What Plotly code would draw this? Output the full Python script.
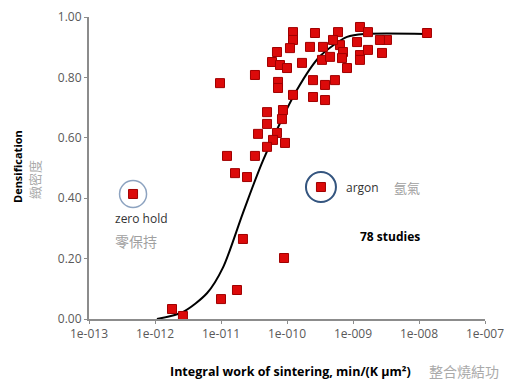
import plotly.graph_objects as go

# Data points: integral work of sintering (min/(K um^2)) vs densification
work = [1.233e-10, 2.655e-10, 1.233e-10, 5.93e-10, 1.276e-9, 1.687e-9, 3.27e-9, 1.32e-8,
        7.05e-11, 1.109e-10, 2.23e-10, 3.51e-10, 6.35e-10, 1.15e-9, 2.56e-9,
        5.93e-11, 7.83e-11, 1.0e-10, 1.687e-10, 3.39e-10, 4.49e-10, 7.05e-10, 1.276e-9,
        1.687e-9, 2.75e-9, 8.11e-10, 1.276e-9, 3.27e-11, 7.31e-11, 7.31e-11, 2.48e-10,
        2.48e-10, 3.77e-10, 3.77e-10, 5.33e-10, 1.233e-10, 9.66e-12, 4.98e-10, 6.81e-10,
        4.98e-11, 8.69e-11, 8.39e-11, 4.98e-11, 3.64e-11, 7.05e-11, 6.14e-11, 9.33e-11,
        4.98e-11, 1.233e-11, 3.27e-11, 1.63e-11, 2.48e-11, 2.15e-11, 9.02e-11, 1.746e-11,
        1.0e-11, 1.81e-12, 2.65e-12]
densification = [0.950, 0.947, 0.924, 0.950, 0.967, 0.950, 0.924, 0.947,
                 0.884, 0.897, 0.901, 0.901, 0.907, 0.917, 0.924,
                 0.851, 0.841, 0.831, 0.848, 0.858, 0.868, 0.884, 0.874,
                 0.891, 0.881, 0.831, 0.858, 0.808, 0.785, 0.765, 0.791,
                 0.735, 0.775, 0.725, 0.791, 0.742, 0.781, 0.924, 0.864,
                 0.685, 0.692, 0.662, 0.646, 0.613, 0.616, 0.593, 0.583,
                 0.570, 0.540, 0.540, 0.483, 0.470, 0.265, 0.202, 0.096,
                 0.066, 0.033, 0.010]

zero_hold = (4.65e-13, 0.414)
argon = (3.27e-10, 0.437)

# Fitted curve
curve_work = [1.07e-12, 2.63e-12, 6.17e-12, 1.07e-11, 2.14e-11, 4.37e-11, 1.41e-10,
              3.16e-10, 8.13e-10, 1.58e-9, 1.26e-8]
curve_dens = [0.0, 0.023, 0.086, 0.17, 0.35, 0.527, 0.758, 0.87, 0.934, 0.944, 0.944]

x_tickvals = [1e-13, 1e-12, 1e-11, 1e-10, 1e-9, 1e-8, 1e-7]
x_ticktext = ["1e-013", "1e-012", "1e-011", "1e-010", "1e-009", "1e-008", "1e-007"]
y_tickvals = [0.0, 0.2, 0.4, 0.6, 0.8, 1.0]

RED = "#dc0a0a"
EDGE = "#a00000"
FONT = "Open Sans"
CJK = "Noto Sans CJK TC"

# Page has an 8px body margin; the figure is sized so the screen layout matches.
OFF = 8
W, H = 512 - OFF, 385 - OFF
SL, SR, ST, SB = 89, 485, 17, 319   # plot area in screen pixels
L, R, T, B = SL - OFF, 512 - SR, ST - OFF, 385 - SB
pw, ph = SR - SL, SB - ST

fig = go.Figure()
fig.add_trace(go.Scatter(
    x=curve_work, y=curve_dens, mode="lines",
    line=dict(color="black", width=2, shape="spline", smoothing=0.8),
    hoverinfo="skip"))
fig.add_trace(go.Scatter(
    x=work + [zero_hold[0], argon[0]],
    y=densification + [zero_hold[1], argon[1]],
    mode="markers",
    marker=dict(symbol="square", size=9, color=RED, line=dict(color=EDGE, width=1))))

# circles around the highlighted points
fig.add_trace(go.Scatter(
    x=[zero_hold[0]], y=[zero_hold[1]], mode="markers",
    marker=dict(symbol="circle-open", size=27, color="#8da3c0", line=dict(width=1.5))))
fig.add_trace(go.Scatter(
    x=[argon[0]], y=[argon[1]], mode="markers",
    marker=dict(symbol="circle-open", size=30, color="#34557f", line=dict(width=2))))

annotations = [
    dict(x=-12.212, y=0.334, xref="x", yref="y", text="zero hold", showarrow=False,
         font=dict(family=FONT, size=12, color="#333333")),
    dict(x=-12.288, y=0.258, xref="x", yref="y", text="零保持", showarrow=False,
         font=dict(family=CJK, size=14, color="#a0a0a0")),
    dict(x=-9.136, y=0.437, xref="x", yref="y", text="argon", showarrow=False,
         xanchor="left", font=dict(family=FONT, size=12, color="#333333")),
    dict(x=-8.409, y=0.437, xref="x", yref="y", text="氬氣", showarrow=False,
         xanchor="left", font=dict(family=CJK, size=13, color="#a0a0a0")),
    dict(x=-8.44, y=0.272, xref="x", yref="y", text="<b>78 studies</b>", showarrow=False,
         font=dict(family=FONT, size=12, color="black")),
]
# texts placed by screen pixel position
pixel_texts = [
    (17, 167, "<b>Densification</b>", -90, FONT, 11, "black"),
    (34, 180, "緻密度", -90, CJK, 13, "#aaaaaa"),
    (290, 371, "<b>Integral work of sintering, min/(K µm²)</b>", 0, FONT, 12.5, "black"),
    (464, 371, "整合燒結功", 0, CJK, 14, "#aaaaaa"),
]
for sx, sy, txt, ang, fam, sz, col in pixel_texts:
    annotations.append(dict(
        x=(sx - SL) / pw, y=(SB - sy) / ph, xref="paper", yref="paper",
        xanchor="center", yanchor="middle", text=txt, showarrow=False,
        textangle=ang, font=dict(family=fam, size=sz, color=col)))

fig.update_layout(
    width=W, height=H,
    margin=dict(l=L, r=R, t=T, b=B, autoexpand=False),
    paper_bgcolor="white", plot_bgcolor="white",
    showlegend=False,
    annotations=annotations,
    font=dict(family=FONT, size=12, color="#595959"),
    xaxis=dict(type="log", range=[-13, -7], tickvals=x_tickvals, ticktext=x_ticktext,
               showgrid=False, zeroline=False, showline=True, linecolor="#8c8c8c",
               linewidth=2, ticks="outside", ticklen=3, tickcolor="#8c8c8c",
               automargin=False,
               tickfont=dict(family=FONT, size=12, color="#595959")),
    yaxis=dict(range=[0, 1.0], tickvals=y_tickvals, tickformat=".2f",
               showgrid=False, zeroline=False, showline=True, linecolor="#8c8c8c",
               linewidth=2, ticks="outside", ticklen=3, tickcolor="#8c8c8c",
               automargin=False,
               tickfont=dict(family=FONT, size=12, color="#595959")),
)

fig.write_html("out.html")
